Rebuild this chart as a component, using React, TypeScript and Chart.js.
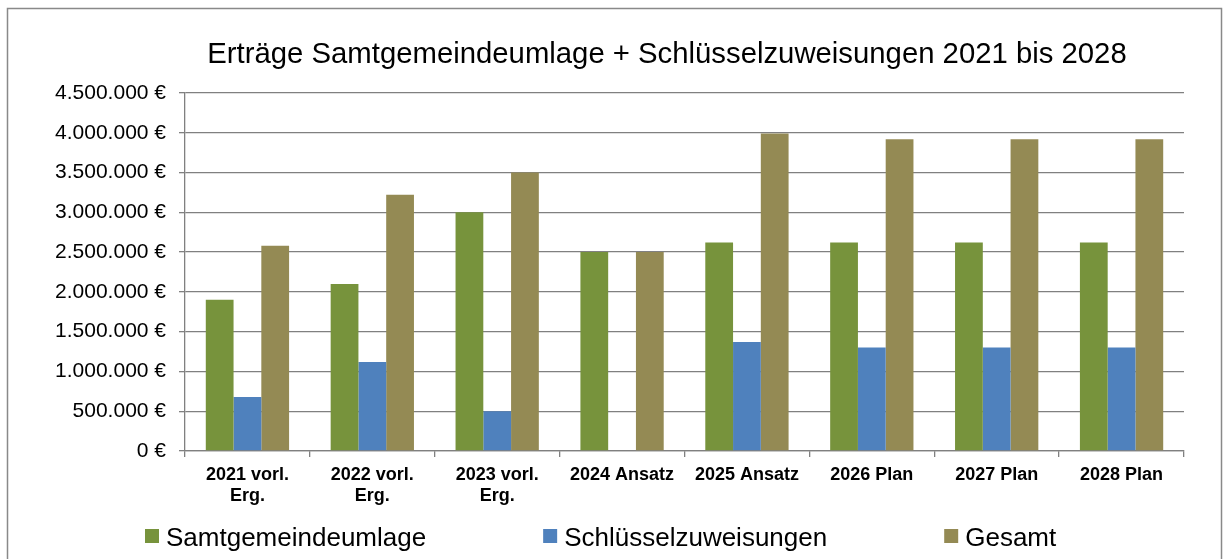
import { useEffect, useRef } from "react";
import { Chart, registerables } from "chart.js";

Chart.register(...registerables);

const categories: (string | string[])[] = [
  ["2021 vorl.", "Erg."],
  ["2022 vorl.", "Erg."],
  ["2023 vorl.", "Erg."],
  "2024 Ansatz",
  "2025 Ansatz",
  "2026 Plan",
  "2027 Plan",
  "2028 Plan",
];
const samtgemeindeumlage = [1900000, 2100000, 3000000, 2500000, 2620000, 2620000, 2620000, 2620000];
const schluesselzuweisungen = [680000, 1120000, 500000, 0, 1370000, 1300000, 1300000, 1300000];
const gesamt = [2580000, 3220000, 3500000, 2500000, 3990000, 3920000, 3920000, 3920000];
const seriesNames = ["Samtgemeindeumlage", "Schlüsselzuweisungen", "Gesamt"];
const seriesColors = ["#77933C", "#4F81BD", "#948A54"];
const chartTitle = "Erträge Samtgemeindeumlage + Schlüsselzuweisungen 2021 bis 2028";
const yMin = 0;
const yMax = 4500000;
const yStep = 500000;

const FONT = '"Liberation Sans", Arial, sans-serif';
const GRID = "#808080";

function fmtEuro(v: number): string {
  return String(Math.round(v)).replace(/\B(?=(\d{3})+(?!\d))/g, ".") + " €";
}

const decorPlugin = {
  id: "decor",
  beforeDraw(chart: any) {
    const ctx = chart.ctx;
    ctx.save();
    ctx.fillStyle = "#ffffff";
    ctx.fillRect(0, 0, chart.width, chart.height);
    ctx.restore();
  },
  afterDraw(chart: any) {
    const ctx = chart.ctx;
    ctx.save();
    // outer frame
    ctx.strokeStyle = "#898989";
    ctx.lineWidth = 1.5;
    ctx.strokeRect(7.5, 8.5, 1214, 600);
    // title
    ctx.fillStyle = "#000000";
    ctx.font = `29.3px ${FONT}`;
    ctx.textAlign = "center";
    ctx.textBaseline = "alphabetic";
    ctx.fillText(chartTitle, 667, 63);
    // legend
    ctx.font = `26px ${FONT}`;
    ctx.textAlign = "left";
    let x = 145;
    chart.data.datasets.forEach((ds: any) => {
      ctx.fillStyle = ds.backgroundColor;
      ctx.fillRect(x, 529, 14, 14);
      ctx.fillStyle = "#000000";
      const tx = x + 21;
      ctx.fillText(ds.label, tx, 546);
      x = tx + ctx.measureText(ds.label).width + 117;
    });
    ctx.restore();
  },
};

export default function App() {
  const ref = useRef<HTMLCanvasElement | null>(null);
  useEffect(() => {
    document.body.style.margin = "0";
    if (!ref.current) return;
    const seriesData = [samtgemeindeumlage, schluesselzuweisungen, gesamt];
    const chart = new Chart(ref.current, {
      type: "bar",
      data: {
        labels: categories,
        datasets: seriesNames.map((name, i) => ({
          label: name,
          data: seriesData[i],
          backgroundColor: seriesColors[i],
          borderWidth: 0,
          categoryPercentage: 0.667,
          barPercentage: 1.0,
        })),
      },
      options: {
        animation: false,
        responsive: true,
        maintainAspectRatio: false,
        layout: { padding: { top: 93, left: 8, right: 45, bottom: 48 } },
        plugins: {
          legend: { display: false },
          title: { display: false },
          tooltip: { enabled: false },
        },
        scales: {
          x: {
            afterFit: (s: any) => {
              s.height = 60;
            },
            grid: {
              display: true,
              drawOnChartArea: false,
              drawTicks: true,
              tickLength: 6,
              color: GRID,
              lineWidth: 1.3,
              offset: true,
            },
            border: { display: true, color: GRID, width: 1.3 },
            ticks: {
              color: "#000000",
              font: { family: FONT, size: 18, weight: "bold" },
              maxRotation: 0,
              minRotation: 0,
              autoSkip: false,
              padding: 7,
            },
          },
          y: {
            min: yMin,
            max: yMax,
            afterFit: (s: any) => {
              s.width = 177;
            },
            grid: { color: GRID, lineWidth: 1.3, drawTicks: true, tickLength: 6 },
            border: { display: true, color: GRID, width: 1.3 },
            ticks: {
              stepSize: yStep,
              color: "#000000",
              font: { family: FONT, size: 21 },
              padding: 13,
              callback: (v: any) => fmtEuro(Number(v)),
            },
          },
        },
      },
      plugins: [decorPlugin],
    });
    return () => chart.destroy();
  }, []);
  return (
    <div style={{ position: "relative", width: "1229px", height: "559px" }}>
      <canvas ref={ref} />
    </div>
  );
}
